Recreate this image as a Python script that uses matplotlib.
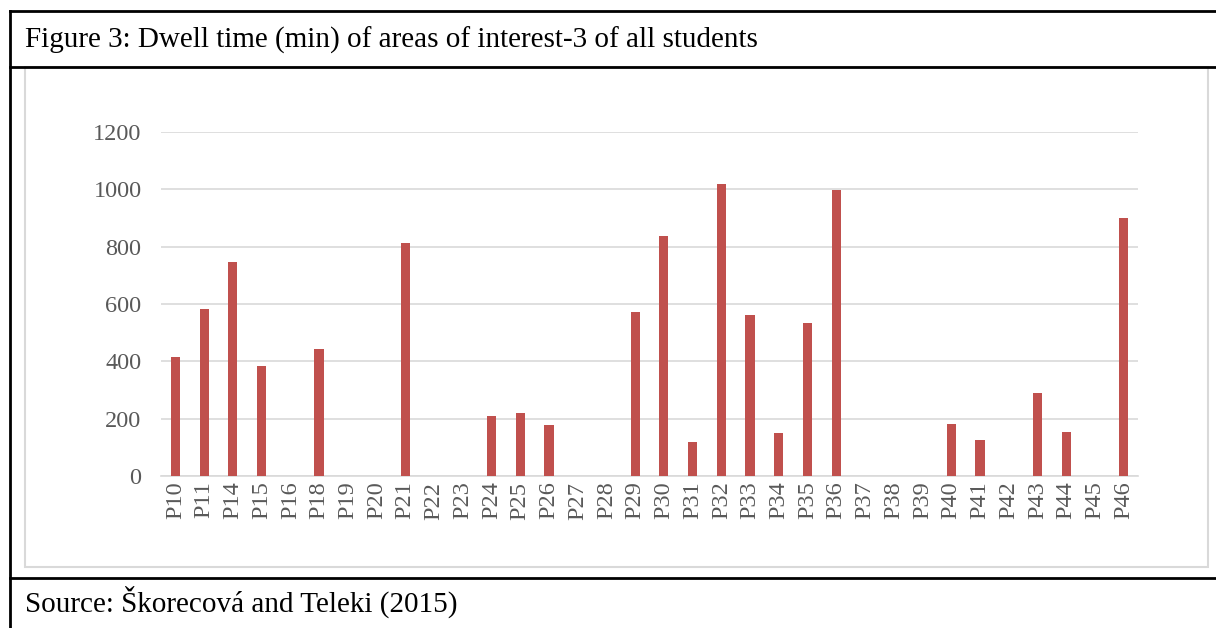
import matplotlib
matplotlib.use("Agg")
import matplotlib.pyplot as plt
from matplotlib.lines import Line2D
from matplotlib.patches import Rectangle

#-------------------------------------------------------------------------------
# data
#-------------------------------------------------------------------------------
participants = ['P10', 'P11', 'P14', 'P15', 'P16', 'P18', 'P19', 'P20', 'P21',
                'P22', 'P23', 'P24', 'P25', 'P26', 'P27', 'P28', 'P29', 'P30',
                'P31', 'P32', 'P33', 'P34', 'P35', 'P36', 'P37', 'P38', 'P39',
                'P40', 'P41', 'P42', 'P43', 'P44', 'P45', 'P46']
dwell_time = [416, 582, 745, 384, 0, 444, 0, 0, 814,
              0, 0, 211, 221, 179, 0, 0, 572, 836,
              117, 1020, 561, 149, 532, 997, 0, 0, 0,
              180, 127, 0, 288, 152, 0, 899]
y_ticks = [0, 200, 400, 600, 800, 1000, 1200]

title = 'Figure 3: Dwell time (min) of areas of interest-3 of all students'
source = 'Source: \u0160korecov\u00e1 and Teleki (2015)'

#-------------------------------------------------------------------------------
W, H = 1216, 628
plt.rcParams['font.family'] = ['Liberation Serif', 'DejaVu Serif']

fig = plt.figure(figsize=(W / 100, H / 100), dpi=100)

def fx(px):
    return px / W

def fy(py):
    return 1 - py / H

# inner chart frame (light grey)
fig.add_artist(Rectangle((fx(25), fy(567)), fx(1208) - fx(25), fy(67) - fy(567),
                         transform=fig.transFigure, fill=False,
                         edgecolor='#d9d9d9', linewidth=1.5))

# table lines (black)
for yy in [11, 67, 578]:
    fig.add_artist(Line2D([fx(10), 1], [fy(yy), fy(yy)], transform=fig.transFigure,
                          color='black', linewidth=2))
fig.add_artist(Line2D([fx(10), fx(10)], [fy(11), 0], transform=fig.transFigure,
                      color='black', linewidth=2))

fig.text(fx(25), fy(40), title, fontsize=21, ha='left', va='center', color='black')
fig.text(fx(25), fy(602), source, fontsize=21, ha='left', va='center', color='black')

# chart
ax = fig.add_axes([fx(161), fy(476), fx(1138) - fx(161), fy(132) - fy(476)])
x = range(len(participants))
ax.bar(x, dwell_time, width=0.32, color='#C0504D', zorder=3)

ax.set_xlim(-0.5, len(participants) - 0.5)
ax.set_ylim(0, 1200)
ax.set_yticks(y_ticks)
ax.set_xticks(list(x))
ax.set_xticklabels(participants, rotation=90)
ax.tick_params(axis='both', length=0, labelsize=17.5, colors='#595959')
ax.tick_params(axis='y', pad=14)
ax.tick_params(axis='x', pad=4)
ax.grid(axis='y', color='#d9d9d9', linewidth=1.2, zorder=0)
for s in ['top', 'right', 'left']:
    ax.spines[s].set_visible(False)
ax.spines['bottom'].set_color('#d9d9d9')
ax.spines['bottom'].set_linewidth(1.2)

fig.savefig('out.png', dpi=100)
